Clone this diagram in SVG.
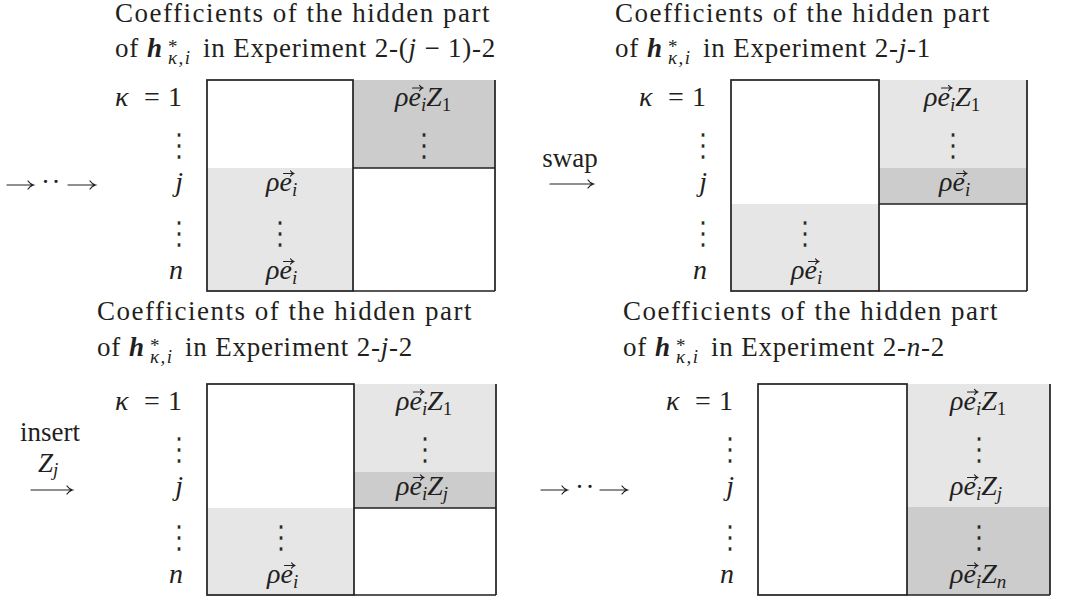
<svg xmlns="http://www.w3.org/2000/svg" xmlns:xlink="http://www.w3.org/1999/xlink" width="1070" height="599" viewBox="0 0 1070 599">
<style>
.t{font-family:"Liberation Serif",serif;font-size:27px;fill:#231f20}
.m{font-size:28px}
.l1{letter-spacing:1.5px}
.l2{letter-spacing:0.8px}
.i{font-style:italic}
.b{font-weight:bold}
.s{font-size:19px}
.sb{letter-spacing:1.5px}
.dots{font-family:"DejaVu Serif",serif;font-size:32px;fill:#231f20;text-anchor:middle;stroke:#ffffff;stroke-width:0.6px}
.dL{stroke:#e6e6e6}
.dD{stroke:#cccccc}
.end{text-anchor:end}
.mid{text-anchor:middle}
.frame{fill:none;stroke:#231f20;stroke-width:1.7}
.lg{fill:#e6e6e6}
.dg{fill:#cccccc}
.arr{fill:none;stroke:#231f20;stroke-width:1.2;stroke-linecap:round}
.va{fill:none;stroke:#231f20;stroke-width:1.1;stroke-linecap:round}
</style>
<defs>
<path id="vec" class="va" d="M0,0 H10 M7,-2.6 Q8.5,-0.8 10.3,0 Q8.5,0.8 7,2.6"/>
</defs>
<rect width="1070" height="599" fill="#ffffff"/>

<!-- ===== Top-left ===== -->
<g id="node-tl">
<text class="t l1" x="115" y="22">Coefficients of the hidden part</text>
<text class="t l2" y="57"><tspan x="115">of</tspan><tspan x="147" class="b i">h</tspan><tspan x="168" dy="-4" class="s">*</tspan><tspan x="168" dy="11" class="s i sb">κ,i</tspan><tspan x="203" dy="-7">in Experiment 2-(<tspan class="i">j</tspan> − 1)-2</tspan></text>
<g transform="translate(207,80)">
<rect x="146" y="0" width="142" height="88" class="dg"/>
<rect x="0" y="88" width="146" height="123" class="lg"/>
<rect x="0" y="0" width="146" height="211" class="frame"/>
<path class="frame" d="M146,88 H288 M288,0 V211 M146,211 H288"/>
</g>
<text class="t m i" x="115" y="105.5">κ</text><text class="t m" x="144" y="105.5">=</text><text class="t m" x="168" y="105.5">1</text>
<text class="dots" x="179" y="155.5">⋮</text>
<text class="t m i end" x="183" y="191">j</text>
<text class="dots" x="179" y="243.5">⋮</text>
<text class="t m i end" x="183" y="279">n</text>
<text class="t m i" x="266" y="191">ρe<tspan class="s" dy="5">i</tspan></text><use xlink:href="#vec" x="283.5" y="173.5"/>
<text class="dots dL" x="280" y="243.5">⋮</text>
<text class="t m i" x="266" y="279">ρe<tspan class="s" dy="5">i</tspan></text><use xlink:href="#vec" x="283.5" y="261.5"/>
<text class="t m i" x="395" y="105.5">ρe<tspan class="s" dy="5">i</tspan><tspan dy="-5">Z</tspan><tspan class="s" dy="5" font-style="normal">1</tspan></text><use xlink:href="#vec" x="412.5" y="88"/>
<text class="dots dD" x="424" y="155.5">⋮</text>
</g>

<!-- ===== Top-right ===== -->
<g id="node-tr">
<text class="t l1" x="615" y="22">Coefficients of the hidden part</text>
<text class="t l2" y="57"><tspan x="615">of</tspan><tspan x="647" class="b i">h</tspan><tspan x="668" dy="-4" class="s">*</tspan><tspan x="668" dy="11" class="s i sb">κ,i</tspan><tspan x="703" dy="-7">in Experiment 2-<tspan class="i">j</tspan>-1</tspan></text>
<g transform="translate(731,80)">
<rect x="148" y="0" width="148" height="88" class="lg"/>
<rect x="148" y="88" width="148" height="36" class="dg"/>
<rect x="0" y="124" width="148" height="87" class="lg"/>
<rect x="0" y="0" width="148" height="211" class="frame"/>
<path class="frame" d="M148,124 H296 M296,0 V211 M148,211 H296"/>
</g>
<text class="t m i" x="639" y="105.5">κ</text><text class="t m" x="668" y="105.5">=</text><text class="t m" x="692" y="105.5">1</text>
<text class="dots" x="703" y="155.5">⋮</text>
<text class="t m i end" x="707" y="191">j</text>
<text class="dots" x="703" y="243.5">⋮</text>
<text class="t m i end" x="707" y="279">n</text>
<text class="dots dL" x="805" y="243.5">⋮</text>
<text class="t m i" x="791" y="279">ρe<tspan class="s" dy="5">i</tspan></text><use xlink:href="#vec" x="808.5" y="261.5"/>
<text class="t m i" x="924" y="105.5">ρe<tspan class="s" dy="5">i</tspan><tspan dy="-5">Z</tspan><tspan class="s" dy="5" font-style="normal">1</tspan></text><use xlink:href="#vec" x="941.5" y="88"/>
<text class="dots dL" x="953" y="155.5">⋮</text>
<text class="t m i" x="939" y="191">ρe<tspan class="s" dy="5">i</tspan></text><use xlink:href="#vec" x="956.5" y="173.5"/>
</g>

<!-- ===== Bottom-left ===== -->
<g id="node-bl">
<text class="t l1" x="97" y="320">Coefficients of the hidden part</text>
<text class="t l2" y="356"><tspan x="97">of</tspan><tspan x="129" class="b i">h</tspan><tspan x="150" dy="-4" class="s">*</tspan><tspan x="150" dy="11" class="s i sb">κ,i</tspan><tspan x="185" dy="-7">in Experiment 2-<tspan class="i">j</tspan>-2</tspan></text>
<g transform="translate(207,384)">
<rect x="147" y="0" width="142" height="88" class="lg"/>
<rect x="147" y="88" width="142" height="36" class="dg"/>
<rect x="0" y="124" width="147" height="87" class="lg"/>
<rect x="0" y="0" width="147" height="211" class="frame"/>
<path class="frame" d="M147,124 H289 M289,0 V211 M147,211 H289"/>
</g>
<text class="t m i" x="115" y="409.5">κ</text><text class="t m" x="144" y="409.5">=</text><text class="t m" x="168" y="409.5">1</text>
<text class="dots" x="179" y="459.5">⋮</text>
<text class="t m i end" x="183" y="495">j</text>
<text class="dots" x="179" y="547.5">⋮</text>
<text class="t m i end" x="183" y="583">n</text>
<text class="dots dL" x="280.5" y="547.5">⋮</text>
<text class="t m i" x="267" y="583">ρe<tspan class="s" dy="5">i</tspan></text><use xlink:href="#vec" x="284.5" y="565.5"/>
<text class="t m i" x="396" y="409.5">ρe<tspan class="s" dy="5">i</tspan><tspan dy="-5">Z</tspan><tspan class="s" dy="5" font-style="normal">1</tspan></text><use xlink:href="#vec" x="413.5" y="392"/>
<text class="dots dL" x="425" y="459.5">⋮</text>
<text class="t m i" x="396" y="495">ρe<tspan class="s" dy="5">i</tspan><tspan dy="-5">Z</tspan><tspan class="s" dy="5">j</tspan></text><use xlink:href="#vec" x="413.5" y="477.5"/>
</g>

<!-- ===== Bottom-right ===== -->
<g id="node-br">
<text class="t l1" x="623" y="320">Coefficients of the hidden part</text>
<text class="t l2" y="356"><tspan x="623">of</tspan><tspan x="655" class="b i">h</tspan><tspan x="676" dy="-4" class="s">*</tspan><tspan x="676" dy="11" class="s i sb">κ,i</tspan><tspan x="711" dy="-7">in Experiment 2-<tspan class="i">n</tspan>-2</tspan></text>
<g transform="translate(758,384)">
<rect x="149" y="0" width="143" height="123" class="lg"/>
<rect x="149" y="123" width="143" height="88" class="dg"/>
<rect x="0" y="0" width="149" height="211" class="frame"/>
<path class="frame" d="M292,0 V211 M149,211 H292"/>
</g>
<text class="t m i" x="666" y="409.5">κ</text><text class="t m" x="695" y="409.5">=</text><text class="t m" x="719" y="409.5">1</text>
<text class="dots" x="730" y="459.5">⋮</text>
<text class="t m i end" x="734" y="495">j</text>
<text class="dots" x="730" y="547.5">⋮</text>
<text class="t m i end" x="734" y="583">n</text>
<text class="t m i" x="950" y="409.5">ρe<tspan class="s" dy="5">i</tspan><tspan dy="-5">Z</tspan><tspan class="s" dy="5" font-style="normal">1</tspan></text><use xlink:href="#vec" x="967.5" y="392"/>
<text class="dots dL" x="979" y="459.5">⋮</text>
<text class="t m i" x="950" y="495">ρe<tspan class="s" dy="5">i</tspan><tspan dy="-5">Z</tspan><tspan class="s" dy="5">j</tspan></text><use xlink:href="#vec" x="967.5" y="477.5"/>
<text class="dots dD" x="979" y="547.5">⋮</text>
<text class="t m i" x="950" y="583">ρe<tspan class="s" dy="5">i</tspan><tspan dy="-5">Z</tspan><tspan class="s" dy="5">n</tspan></text><use xlink:href="#vec" x="967.5" y="565.5"/>
</g>

<!-- ===== Connectors ===== -->
<g id="connectors">
<path class="arr" d="M7,185 H33 M28,181 Q30,184 33.5,185 Q30,186 28,189"/>
<text class="t l1" x="41" y="191">··</text>
<path class="arr" d="M68,185 H95 M90,181 Q92,184 95.5,185 Q92,186 90,189"/>

<text class="t mid" x="570" y="167">swap</text>
<path class="arr" d="M550,184 H593 M588,180 Q590,183 593.5,184 Q590,185 588,188"/>

<text class="t mid" x="50" y="441">insert</text>
<text class="t i" x="38" y="472">Z<tspan class="s" dy="4">j</tspan></text>
<path class="arr" d="M31,490 H72 M67,486 Q69,489 72.5,490 Q69,491 67,494"/>

<path class="arr" d="M541,490 H567 M562,486 Q564,489 567.5,490 Q564,491 562,494"/>
<text class="t l1" x="575" y="496">··</text>
<path class="arr" d="M600,490 H627 M622,486 Q624,489 627.5,490 Q624,491 622,494"/>
</g>
</svg>
